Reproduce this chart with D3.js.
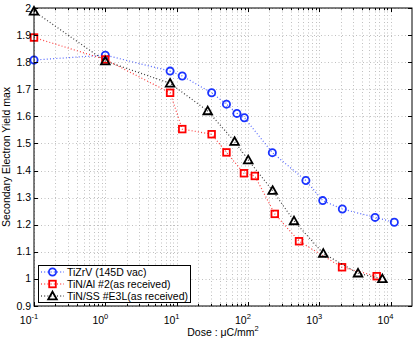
<!DOCTYPE html>
<html>
<head>
<meta charset="utf-8">
<title>Secondary Electron Yield</title>
<script src="https://d3js.org/d3.v7.min.js"></script>
<style>
  body { margin: 0; background: #fff; }
  text { font-family: "Liberation Sans", Arial, Helvetica, sans-serif; }
</style>
</head>
<body>
<div id="vis"></div>
<script>
// data
const seriesNames = ["TiZrV (145D vac)", "TiN/Al #2(as received)", "TiN/SS #E3L(as received)"];

const tizrvDose = [0.1, 1, 8.1, 12, 31, 50, 70, 89, 220, 650, 1120, 2110, 6070, 11300];
const tizrvSey  = [1.808, 1.826, 1.767, 1.749, 1.687, 1.645, 1.611, 1.595, 1.466, 1.363, 1.289, 1.258, 1.227, 1.209];

const tinAlDose = [0.1, 1, 8.1, 12, 31, 50, 88, 125, 238, 521, 2090, 6400];
const tinAlSey  = [1.891, 1.81, 1.687, 1.553, 1.534, 1.467, 1.39, 1.38, 1.24, 1.139, 1.043, 1.01];

const tinSsDose = [0.1, 1, 8.1, 27.3, 65, 101, 222, 443, 1140, 3500, 7680];
const tinSsSey  = [1.988, 1.804, 1.722, 1.62, 1.507, 1.439, 1.326, 1.214, 1.094, 1.021, 1.0];

const yTicks = [0.9, 1, 1.1, 1.2, 1.3, 1.4, 1.5, 1.6, 1.7, 1.8, 1.9, 2];
const xDecades = [-1, 0, 1, 2, 3, 4];

const width = 415, height = 341;
const margin = {left: 34, right: 3, top: 8, bottom: 35};

const svg = d3.select("#vis").append("svg")
  .attr("width", width).attr("height", height);

const x = d3.scaleLog().domain([0.1, 20000]).range([margin.left, width - margin.right]);
const y = d3.scaleLinear().domain([0.9, 2]).range([height - margin.bottom, margin.top]);

const x0 = x.range()[0], x1 = x.range()[1];
const y0 = y.range()[0], y1 = y.range()[1];

// minor + major x positions
let xMinor = [];
for (let e = -1; e <= 4; e++) {
  for (let m = 2; m <= 9; m++) {
    const v = m * Math.pow(10, e);
    if (v < 20000) xMinor.push(v);
  }
}
const xMajor = xDecades.map(e => Math.pow(10, e));

// grid
const grid = svg.append("g").attr("stroke", "#b0b0b0").attr("stroke-width", 0.8)
  .attr("stroke-dasharray", "1,2.5").attr("fill", "none");
grid.selectAll(".vx").data(xMinor.concat(xMajor)).join("line")
  .attr("x1", d => Math.round(x(d)) + 0.5).attr("x2", d => Math.round(x(d)) + 0.5)
  .attr("y1", y1).attr("y2", y0);
grid.selectAll(".hy").data(yTicks).join("line")
  .attr("x1", x0).attr("x2", x1)
  .attr("y1", d => Math.round(y(d)) + 0.5).attr("y2", d => Math.round(y(d)) + 0.5);

// series
const series = [
  {name: seriesNames[0], dose: tizrvDose, sey: tizrvSey, color: "#1a33ff", marker: "circle"},
  {name: seriesNames[1], dose: tinAlDose, sey: tinAlSey, color: "#ff0000", marker: "square"},
  {name: seriesNames[2], dose: tinSsDose, sey: tinSsSey, color: "#000000", marker: "triangle"}
];

const line = d3.line().x(d => x(d[0])).y(d => y(d[1]));

function drawMarker(g, type, color) {
  if (type === "circle") {
    g.append("circle").attr("r", 3.6).attr("fill", "none")
      .attr("stroke", color).attr("stroke-width", 1.8);
  } else if (type === "square") {
    g.append("rect").attr("x", -3.3).attr("y", -3.3).attr("width", 6.6).attr("height", 6.6)
      .attr("fill", "none").attr("stroke", color).attr("stroke-width", 1.8);
  } else {
    g.append("path").attr("d", "M0,-4.3L4.3,3.3L-4.3,3.3Z")
      .attr("fill", "none").attr("stroke", color).attr("stroke-width", 1.8)
      .attr("stroke-linejoin", "miter");
  }
}

series.forEach(s => {
  const pts = s.dose.map((d, i) => [d, s.sey[i]]);
  svg.append("path").datum(pts).attr("d", line)
    .attr("fill", "none").attr("stroke", s.color).attr("stroke-width", 1.2)
    .attr("stroke-dasharray", "1,2.2").attr("opacity", 0.75);
  pts.forEach(p => {
    const g = svg.append("g").attr("transform", `translate(${x(p[0])},${y(p[1])})`);
    drawMarker(g, s.marker, s.color);
  });
});

// axes box
const axis = svg.append("g").attr("stroke", "#000").attr("stroke-width", 1).attr("fill", "none");
axis.append("rect").attr("x", x0).attr("y", y1).attr("width", x1 - x0).attr("height", y0 - y1);

// ticks
const tl = 4, tls = 2.2;
xMajor.forEach(v => {
  const px = Math.round(x(v)) + 0.5;
  axis.append("line").attr("x1", px).attr("x2", px).attr("y1", y0).attr("y2", y0 - tl);
  axis.append("line").attr("x1", px).attr("x2", px).attr("y1", y1).attr("y2", y1 + tl);
});
xMinor.forEach(v => {
  const px = Math.round(x(v)) + 0.5;
  axis.append("line").attr("x1", px).attr("x2", px).attr("y1", y0).attr("y2", y0 - tls);
  axis.append("line").attr("x1", px).attr("x2", px).attr("y1", y1).attr("y2", y1 + tls);
});
yTicks.forEach(v => {
  const py = Math.round(y(v)) + 0.5;
  axis.append("line").attr("x1", x0).attr("x2", x0 + tl).attr("y1", py).attr("y2", py);
  axis.append("line").attr("x1", x1).attr("x2", x1 - tl).attr("y1", py).attr("y2", py);
});

// tick labels
svg.append("g").selectAll("text").data(yTicks).join("text")
  .attr("x", x0 - 3).attr("y", d => y(d) + 3.5)
  .attr("text-anchor", "end").attr("font-size", 10.5)
  .text(d => d3.format("~g")(d));

const xl = svg.append("g").attr("font-size", 10.5);
xDecades.forEach(e => {
  const t = xl.append("text").attr("x", x(Math.pow(10, e)) - 5).attr("y", y0 + 18)
    .attr("text-anchor", "middle");
  t.append("tspan").text("10");
  t.append("tspan").attr("dy", -5).attr("font-size", 7.5).text(e);
});

// axis titles
svg.append("text")
  .attr("transform", `translate(10,${(y0 + y1) / 2}) rotate(-90)`)
  .attr("text-anchor", "middle").attr("font-size", 10.5)
  .text("Secondary Electron Yield max");

const xt = svg.append("text").attr("x", (x0 + x1) / 2).attr("y", 336)
  .attr("text-anchor", "middle").attr("font-size", 10.5);
xt.append("tspan").text("Dose : \u03bcC/mm");
xt.append("tspan").attr("dy", -5).attr("font-size", 7.5).text("2");

// legend
const lg = svg.append("g");
lg.append("rect").attr("x", 38.5).attr("y", 265.5).attr("width", 152).attr("height", 37)
  .attr("fill", "#fff").attr("stroke", "#000").attr("stroke-width", 1);
series.forEach((s, i) => {
  const ly = 272 + i * 12;
  lg.append("line").attr("x1", 41).attr("x2", 64).attr("y1", ly).attr("y2", ly)
    .attr("stroke", s.color).attr("stroke-width", 1.2).attr("stroke-dasharray", "1,2.2");
  const g = lg.append("g").attr("transform", `translate(52.5,${ly})`);
  drawMarker(g, s.marker, s.color);
  lg.append("text").attr("x", 67).attr("y", ly + 3.8).attr("font-size", 10.5).text(s.name);
});
</script>
</body>
</html>
